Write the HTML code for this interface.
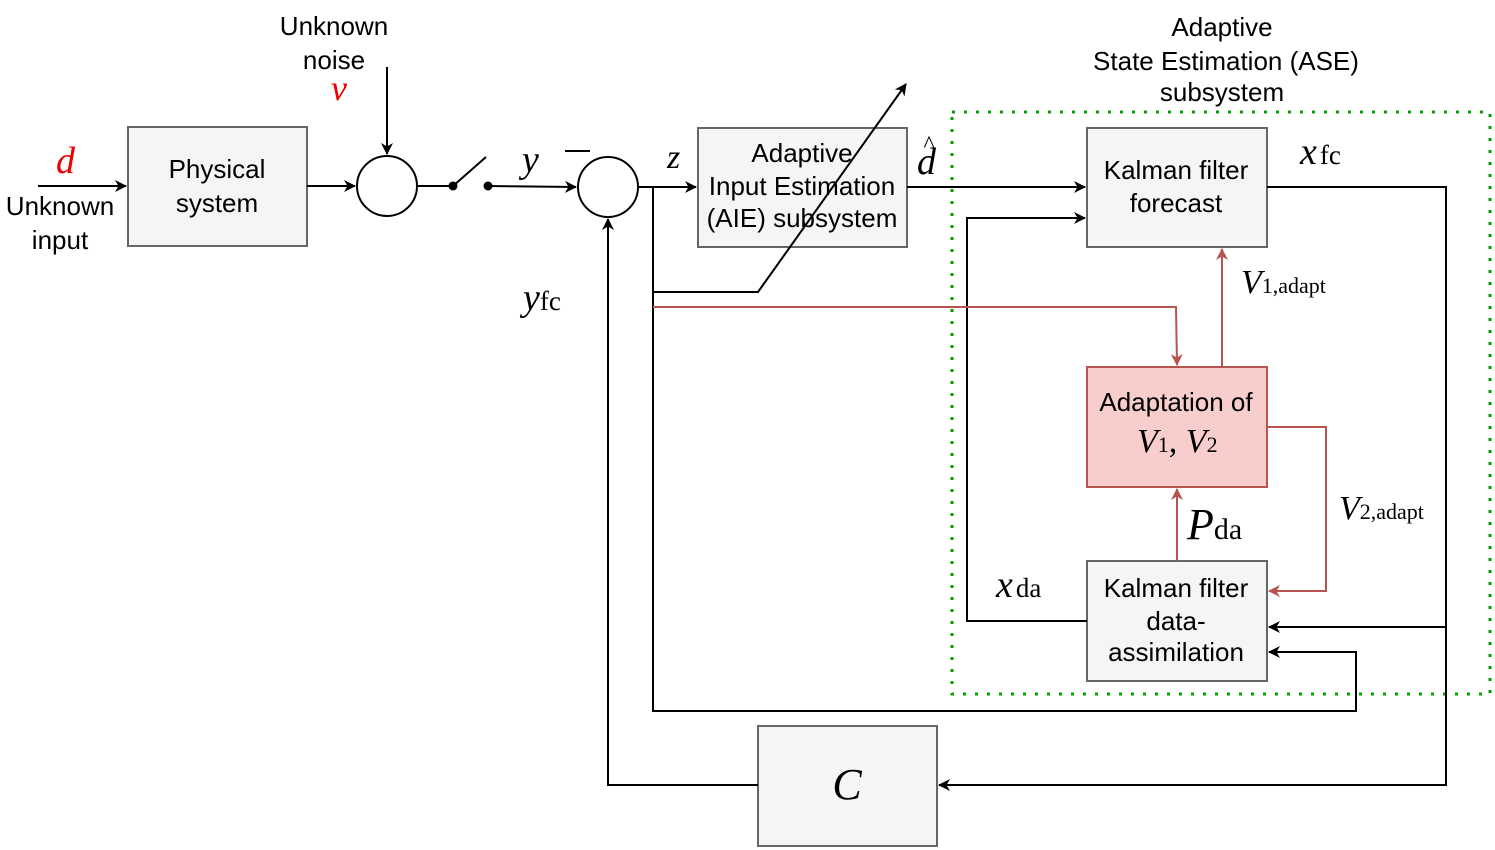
<!DOCTYPE html>
<html><head><style>body{margin:0;background:#fff}svg{display:block}
.t{font-family:"Liberation Sans",sans-serif;font-size:26px;fill:#000;text-anchor:middle}
.m{font-family:"Liberation Serif",serif;font-style:italic;fill:#000}
.s{font-family:"Liberation Serif",serif;font-style:normal}
</style></head><body>
<svg width="1495" height="850" viewBox="0 0 1495 850" xmlns="http://www.w3.org/2000/svg">
<defs>
<marker id="a" markerWidth="12" markerHeight="12" refX="11" refY="6" orient="auto" markerUnits="userSpaceOnUse"><path d="M0,0 L12,6 L0,12 L3.5,6z" fill="#000"/></marker>
<marker id="r" markerWidth="12" markerHeight="12" refX="11" refY="6" orient="auto" markerUnits="userSpaceOnUse"><path d="M0,0 L12,6 L0,12 L3.5,6z" fill="#b85450"/></marker>
</defs>
<g fill="none" stroke="#000" stroke-width="2">
<rect x="952" y="112" width="538" height="582" stroke="#00a000" stroke-width="3" stroke-dasharray="3,9"/>
<rect x="128" y="127" width="179" height="119" fill="#f5f5f5" stroke="#666"/>
<rect x="698" y="128" width="209" height="119" fill="#f5f5f5" stroke="#666"/>
<rect x="1087" y="128" width="180" height="119" fill="#f5f5f5" stroke="#666"/>
<rect x="1087" y="367" width="180" height="120" fill="#f8cecc" stroke="#b85450"/>
<rect x="1087" y="561" width="180" height="120" fill="#f5f5f5" stroke="#666"/>
<rect x="758" y="726" width="179" height="120" fill="#f5f5f5" stroke="#666"/>
<circle cx="387" cy="186" r="30"/>
<circle cx="608" cy="187" r="30"/>
<path d="M38,186 H126" marker-end="url(#a)"/>
<path d="M307,186 H355" marker-end="url(#a)"/>
<path d="M387,67 V154" marker-end="url(#a)"/>
<path d="M417,186 H453 L486,157"/>
<circle cx="453" cy="186" r="3.5" fill="#000"/><circle cx="488" cy="186" r="3.5" fill="#000"/>
<path d="M488,186 L576,187" marker-end="url(#a)"/>
<path d="M638,187 H696" marker-end="url(#a)"/>
<path d="M653,187 V711 H1356 V652 H1269" marker-end="url(#a)"/>
<path d="M653,292 H758 L906,84" marker-end="url(#a)"/>
<path d="M907,187 H1085" marker-end="url(#a)"/>
<path d="M1087,621 H967 V218 H1085" marker-end="url(#a)"/>
<path d="M1267,187 H1446 V785 H939" marker-end="url(#a)"/>
<path d="M1446,627 H1269" marker-end="url(#a)"/>
<path d="M758,785 H608 V219" marker-end="url(#a)"/>
<path d="M565,151 H590"/>
</g>
<g fill="none" stroke="#b85450" stroke-width="2">
<path d="M653,307 H1176 L1177,365" marker-end="url(#r)"/>
<path d="M1222,367 V249" marker-end="url(#r)"/>
<path d="M1267,427 H1326 V591 H1269" marker-end="url(#r)"/>
<path d="M1177,561 V489" marker-end="url(#r)"/>
</g>
<text class="t" x="217" y="178">Physical</text><text class="t" x="217" y="212">system</text>
<text class="t" x="60" y="215">Unknown</text><text class="t" x="60" y="249">input</text>
<text class="t" x="334" y="35">Unknown</text><text class="t" x="334" y="69">noise</text>
<text class="t" x="802" y="162">Adaptive</text><text class="t" x="802" y="195">Input Estimation</text><text class="t" x="802" y="227">(AIE) subsystem</text>
<text class="t" x="1222" y="36">Adaptive</text><text class="t" x="1226" y="70">State Estimation (ASE)</text><text class="t" x="1222" y="101">subsystem</text>
<text class="t" x="1176" y="179">Kalman filter</text><text class="t" x="1176" y="212">forecast</text>
<text class="t" x="1176" y="411">Adaptation of</text>
<text class="t" x="1176" y="597">Kalman filter</text><text class="t" x="1176" y="630">data-</text><text class="t" x="1176" y="661">assimilation</text>
<text class="m" x="56" y="173" font-size="38" style="fill:#e00">d</text>
<text class="m" x="331" y="100" font-size="36" style="fill:#e00">v</text>
<text class="m" x="522" y="172" font-size="38">y</text>
<text class="m" x="667" y="168" font-size="34">z</text>
<text class="m" x="917" y="174" font-size="38">d</text><text x="929" y="152" font-size="24" font-family="Liberation Serif" text-anchor="middle">^</text>
<text class="m" x="523" y="310" font-size="38">y<tspan class="s" font-size="27">fc</tspan></text>
<text class="m" x="1300" y="164" font-size="38">x<tspan class="s" font-size="27" dx="3">fc</tspan></text>
<text class="m" x="1241" y="293" font-size="34">V<tspan class="s" font-size="22">1,adapt</tspan></text>
<text class="m" x="1137" y="452" font-size="34">V<tspan class="s" font-size="22">1</tspan><tspan class="s">, </tspan>V<tspan class="s" font-size="22">2</tspan></text>
<text class="m" x="1339" y="519" font-size="34">V<tspan class="s" font-size="22">2,adapt</tspan></text>
<text class="m" x="1187" y="539" font-size="44">P<tspan class="s" font-size="30">da</tspan></text>
<text class="m" x="996" y="597" font-size="38">x<tspan class="s" font-size="27" dx="3">da</tspan></text>
<text class="m" x="847" y="799" font-size="44" text-anchor="middle">C</text>
</svg>
</body></html>
